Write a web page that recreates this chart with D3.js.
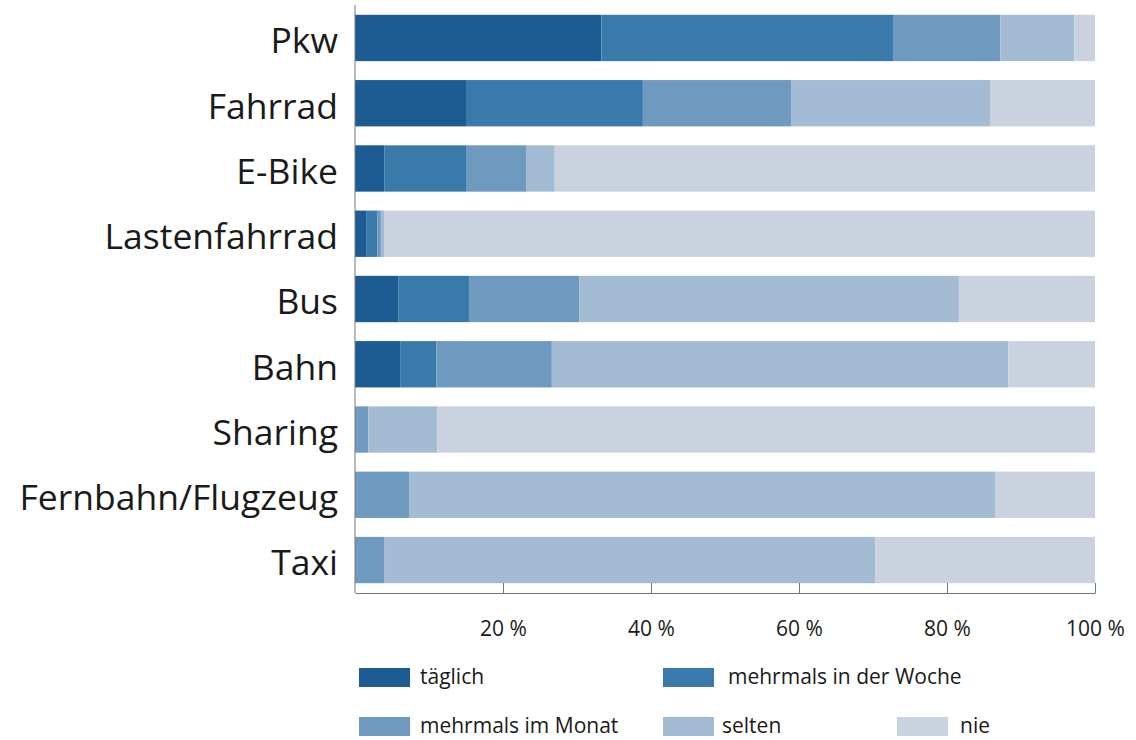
<!DOCTYPE html>
<html>
<head>
<meta charset="utf-8">
<script src="https://cdn.jsdelivr.net/npm/d3@7"></script>
<style>
  body { margin: 0; background: #fff; }
  text { font-family: "Open Sans", sans-serif; fill: #1a1a1a; }
</style>
</head>
<body>
<svg id="chart"></svg>
<script>
var width = 1136;
var height = 740;

// Nutzungshäufigkeit je Verkehrsmittel (in %)
var categories = ["Pkw", "Fahrrad", "E-Bike", "Lastenfahrrad", "Bus", "Bahn", "Sharing", "Fernbahn/Flugzeug", "Taxi"];
var taeglich = [33.3, 15.0, 4.0, 1.5, 5.9, 6.1, 0, 0, 0];
var woche    = [39.5, 23.9, 11.0, 1.5, 9.5, 4.9, 0, 0, 0];
var monat    = [14.4, 20.1, 8.2, 0.5, 14.9, 15.6, 1.8, 7.3, 4.0];
var selten   = [10.0, 26.9, 3.8, 0.5, 51.3, 61.7, 9.3, 79.2, 66.3];
var nie      = [2.8, 14.1, 73.0, 96.0, 18.4, 11.7, 88.9, 13.5, 29.7];

var seriesKeys = ["täglich", "mehrmals in der Woche", "mehrmals im Monat", "selten", "nie"];
var seriesColors = ["#1d5c93", "#3a7aab", "#6f9ac0", "#a3bcd3", "#cbd2df"];
var tickValues = [20, 40, 60, 80, 100];

var rows = categories.map(function(c, i) {
    return {
        cat: c,
        "täglich": taeglich[i],
        "mehrmals in der Woche": woche[i],
        "mehrmals im Monat": monat[i],
        "selten": selten[i],
        "nie": nie[i]
    };
});

var svg = d3.select("#chart").attr("width", width).attr("height", height);

var x = d3.scaleLinear().domain([0, 100]).range([355, 1095]);
var y = d3.scaleBand().domain(categories).range([5, 593]).paddingInner(0.29).paddingOuter(0.15);
var color = d3.scaleOrdinal().domain(seriesKeys).range(seriesColors);

var stacked = d3.stack().keys(seriesKeys)(rows);

svg.append("g")
    .selectAll("g")
    .data(stacked)
    .enter().append("g")
    .attr("fill", function(d) { return color(d.key); })
    .selectAll("rect")
    .data(function(d) { return d; })
    .enter().append("rect")
    .attr("x", function(d) { return x(d[0]); })
    .attr("y", function(d) { return y(d.data.cat); })
    .attr("width", function(d) { return Math.max(0, x(d[1]) - x(d[0])); })
    .attr("height", y.bandwidth());

// x-Achse
var xAxis = d3.axisBottom(x)
    .tickValues(tickValues)
    .tickSizeInner(-10)
    .tickSizeOuter(0)
    .tickPadding(28)
    .tickFormat(function(d) { return d + " %"; });

var gx = svg.append("g")
    .attr("transform", "translate(0,593)")
    .call(xAxis);
gx.select(".domain").attr("stroke", "#777");
gx.selectAll(".tick line").attr("stroke", "#777");
gx.selectAll(".tick text")
    .style("font-family", "'Open Sans', sans-serif")
    .style("font-size", "21px")
    .attr("fill", "#1a1a1a");

// y-Achse Linie
svg.append("line")
    .attr("x1", x(0)).attr("x2", x(0))
    .attr("y1", 5).attr("y2", 593)
    .attr("stroke", "#777");

// Kategorien
svg.append("g")
    .selectAll("text")
    .data(categories)
    .enter().append("text")
    .attr("x", 338)
    .attr("y", function(d) { return y(d) + y.bandwidth() / 2 + 3; })
    .attr("dy", "0.35em")
    .attr("text-anchor", "end")
    .style("font-size", "35.5px")
    .text(function(d) { return d; });

// Legende
var legendPos = [
    { x: 359, y: 668, tx: 420 },
    { x: 663, y: 668, tx: 728 },
    { x: 359, y: 717, tx: 420 },
    { x: 663, y: 717, tx: 722 },
    { x: 897, y: 717, tx: 960 }
];

var legend = svg.append("g")
    .selectAll("g")
    .data(seriesKeys)
    .enter().append("g");

legend.append("rect")
    .attr("x", function(d, i) { return legendPos[i].x; })
    .attr("y", function(d, i) { return legendPos[i].y; })
    .attr("width", 51)
    .attr("height", 19)
    .attr("fill", function(d) { return color(d); });

legend.append("text")
    .attr("x", function(d, i) { return legendPos[i].tx; })
    .attr("y", function(d, i) { return legendPos[i].y + 8.5; })
    .attr("dy", "0.35em")
    .style("font-size", "21px")
    .text(function(d) { return d; });
</script>
</body>
</html>
